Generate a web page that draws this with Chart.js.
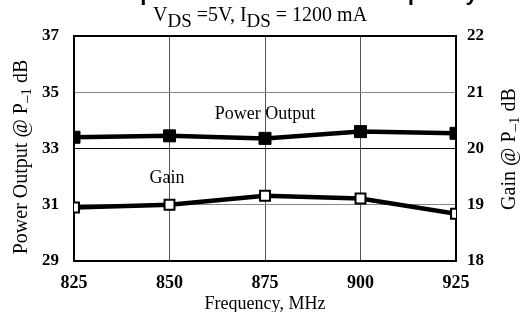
<!DOCTYPE html>
<html>
<head>
<meta charset="utf-8">
<script src="https://cdn.jsdelivr.net/npm/chart.js@4"></script>
<style>
  html, body { margin: 0; padding: 0; background: #fff; }
  #wrap { width: 526px; height: 312px; }
</style>
</head>
<body>
<div id="wrap"><canvas id="myChart" width="526" height="312"></canvas></div>
<script>
// frequency, MHz
const freqs = [825, 850, 875, 900, 925]
// power output @ P-1dB (left axis)
const powerOut = [33.4, 33.45, 33.36, 33.6, 33.54]
// gain @ P-1dB (right axis)
const gain = [18.95, 19.0, 19.16, 19.11, 18.84]
const xTicks = [825, 850, 875, 900, 925]

const serif = '"Liberation Serif", "Times New Roman", serif'

// draws the texts that Chart.js can't do (subscripts, notes)
const extras = {
  id: 'extras',
  afterDraw(chart) {
    const ctx = chart.ctx
    ctx.save()
    ctx.fillStyle = '#000'

    // title, mostly cut off at the top
    ctx.font = 'bold 22px "Liberation Sans", Arial, sans-serif'
    ctx.textAlign = 'center'
    ctx.textBaseline = 'alphabetic'
    ctx.fillText('Output Power & Gain vs. Frequency', 290, 0)

    // subtitle with subscripts
    const parts = [['V', 0], ['DS', 1], [' =5V, I', 0], ['DS', 1], [' = 1200 mA', 0]]
    ctx.textAlign = 'left'
    let x = 153
    parts.forEach(p => {
      ctx.font = (p[1] ? '19px ' : '20px ') + serif
      ctx.fillText(p[0], x, p[1] ? 27 : 21)
      x += ctx.measureText(p[0]).width
    })

    // notes in the plot
    ctx.font = '18px ' + serif
    ctx.textAlign = 'center'
    ctx.textBaseline = 'middle'
    ctx.fillText('Power Output', 265, 114)
    ctx.fillText('Gain', 167, 178)

    // rotated axis titles
    const rot = (label, cx, cy) => {
      ctx.save()
      ctx.translate(cx, cy)
      ctx.rotate(-Math.PI / 2)
      ctx.textBaseline = 'middle'
      const segs = [[label, 0], ['\u2013', 1], ['1', 1], [' dB', 0]]
      const fnt = s => (s[1] ? '15px ' : '20px ') + serif
      let w = 0
      segs.forEach(s => { ctx.font = fnt(s); w += ctx.measureText(s[0]).width })
      let px = -w / 2
      ctx.textAlign = 'left'
      segs.forEach(s => {
        ctx.font = fnt(s)
        ctx.fillText(s[0], px, s[1] ? 5 : 0)
        px += ctx.measureText(s[0]).width
      })
      ctx.restore()
    }
    rot('Power Output @ P', 22, 157)
    rot('Gain @ P', 510, 149)

    ctx.restore()
  }
}

new Chart('myChart', {
  type: 'line',
  data: {
    datasets: [{
      label: 'Power Output',
      data: freqs.map((f, i) => ({x: f, y: powerOut[i]})),
      yAxisID: 'y',
      borderColor: '#000',
      borderWidth: 4.5,
      backgroundColor: '#000',
      pointStyle: 'rect',
      pointRadius: 8.5,
      pointBorderWidth: 1,
      pointBorderColor: '#000',
      pointBackgroundColor: '#000',
      lineTension: 0,
      fill: false
    }, {
      label: 'Gain',
      data: freqs.map((f, i) => ({x: f, y: gain[i]})),
      yAxisID: 'y1',
      borderColor: '#000',
      borderWidth: 4.5,
      pointStyle: 'rect',
      pointRadius: 7,
      pointBorderWidth: 2,
      pointBorderColor: '#000',
      pointBackgroundColor: '#fff',
      lineTension: 0,
      fill: false
    }]
  },
  options: {
    responsive: false,
    animation: false,
    layout: {padding: {top: 36, left: 0, right: 0, bottom: 0}},
    plugins: {legend: {display: false}, tooltip: {enabled: false}},
    scales: {
      x: {
        type: 'linear',
        min: 825, max: 925,
        afterBuildTicks: s => { s.ticks = xTicks.map(v => ({value: v})) },
        afterFit: s => { s.height = 51 },
        ticks: {
          color: '#000',
          padding: 12,
          font: {family: serif, size: 18, weight: 'bold'}
        },
        grid: {
          color: c => (c.tick.value === 825 || c.tick.value === 925) ? '#000' : '#555',
          lineWidth: c => (c.tick.value === 825 || c.tick.value === 925) ? 2 : 1,
          drawTicks: false
        },
        border: {color: '#000', width: 2},
        title: {
          display: true,
          text: 'Frequency, MHz',
          color: '#000',
          font: {family: serif, size: 18},
          padding: {top: 0, bottom: -3}
        }
      },
      y: {
        position: 'left',
        min: 29, max: 37,
        ticks: {
          stepSize: 2,
          color: '#000',
          padding: 15,
          font: {family: serif, size: 17, weight: 'bold'}
        },
        afterFit: s => { s.width = 74 },
        grid: {
          color: c => {
            const v = c.tick.value
            if (v === 37 || v === 29) return '#000'
            if (v === 33) return '#000'
            return '#888'
          },
          lineWidth: c => (c.tick.value === 37 || c.tick.value === 29) ? 2 : 1,
          drawTicks: false
        },
        border: {color: '#000', width: 2}
      },
      y1: {
        position: 'right',
        min: 18, max: 22,
        ticks: {
          stepSize: 1,
          color: '#000',
          padding: 11,
          font: {family: serif, size: 17, weight: 'bold'}
        },
        afterFit: s => { s.width = 70 },
        grid: {display: false, drawTicks: false},
        border: {color: '#000', width: 2}
      }
    }
  },
  plugins: [extras]
})
</script>
</body>
</html>
